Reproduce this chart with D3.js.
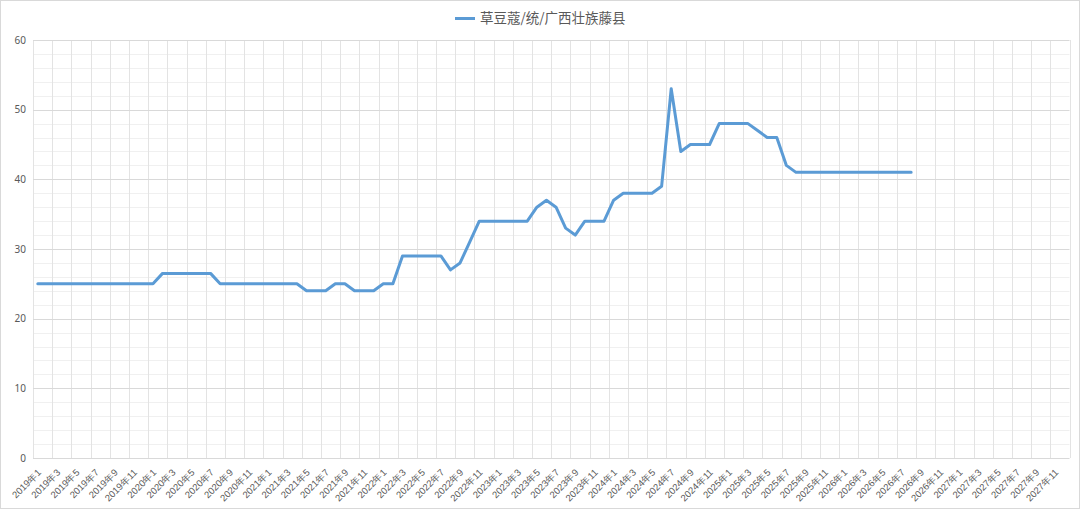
<!DOCTYPE html>
<html>
<head>
<meta charset="utf-8">
<script src="https://cdn.jsdelivr.net/npm/d3@7"></script>
<style>
  html, body { margin: 0; padding: 0; background: #fff; }
  svg { display: block; font-family: "Noto Sans CJK SC", "Noto Sans", sans-serif; }
</style>
</head>
<body>
<svg id="chart" width="1080" height="509"></svg>
<script>
// ---- data ----
const years = [2019, 2020, 2021, 2022, 2023, 2024, 2025, 2026, 2027];
const months = [1,2,3,4,5,6,7,8,9,10,11,12];
const categories = years.flatMap(y => months.map(m => `${y}年${m}`));
const seriesName = "草豆蔻/统/广西壮族藤县";
const values = [
  // 2019
  25,25,25,25,25,25,25,25,25,25,25,25,
  // 2020
  25,26.5,26.5,26.5,26.5,26.5,26.5,25,25,25,25,25,
  // 2021
  25,25,25,25,24,24,24,25,25,24,24,24,
  // 2022
  25,25,29,29,29,29,29,27,28,31,34,34,
  // 2023
  34,34,34,34,36,37,36,33,32,34,34,34,
  // 2024
  37,38,38,38,38,39,53,44,45,45,45,48,
  // 2025
  48,48,48,47,46,46,42,41,41,41,41,41,
  // 2026
  41,41,41,41,41,41,41,41
];
const yTicks = [0, 10, 20, 30, 40, 50, 60];

// ---- layout ----
const W = 1080, H = 509;
const plot = { left: 33, right: 1069.5, top: 40, bottom: 458 };
const svg = d3.select("#chart");

// outer border
svg.append("rect").attr("x", 0.5).attr("y", 0.5).attr("width", W - 1).attr("height", H - 1)
  .attr("fill", "#fff").attr("stroke", "#d9d9d9");

const x = d3.scaleBand().domain(categories).range([plot.left, plot.right]).paddingInner(0).paddingOuter(0);
const y = d3.scaleLinear().domain([0, 60]).range([plot.bottom, plot.top]);

// minor horizontal gridlines
const minor = d3.range(0, 61, 2).filter(v => v % 10 !== 0);
svg.append("g").selectAll("line").data(minor).join("line")
  .attr("x1", plot.left).attr("x2", plot.right)
  .attr("y1", d => Math.round(y(d)) + 0.5).attr("y2", d => Math.round(y(d)) + 0.5)
  .attr("stroke", "#f0f0f0").attr("stroke-width", 1);

// vertical gridlines every 2 categories
const vIdx = d3.range(0, categories.length + 1, 2);
svg.append("g").selectAll("line").data(vIdx).join("line")
  .attr("x1", i => Math.round(plot.left + i * x.step()) + 0.5)
  .attr("x2", i => Math.round(plot.left + i * x.step()) + 0.5)
  .attr("y1", plot.top).attr("y2", plot.bottom)
  .attr("stroke", "#e3e3e3").attr("stroke-width", 1);

// major horizontal gridlines
svg.append("g").selectAll("line").data(yTicks).join("line")
  .attr("x1", plot.left).attr("x2", plot.right)
  .attr("y1", d => Math.round(y(d)) + 0.5).attr("y2", d => Math.round(y(d)) + 0.5)
  .attr("stroke", "#d9d9d9").attr("stroke-width", 1);

// y axis labels
const yAxis = d3.axisLeft(y).tickValues(yTicks).tickSize(0).tickPadding(7);
const gy = svg.append("g").attr("transform", `translate(${plot.left},0)`).call(yAxis);
gy.select(".domain").remove();
gy.selectAll("text").attr("fill", "#595959").style("font-size", "10px")
  .style("font-family", "'Noto Sans', 'DejaVu Sans', sans-serif");

// x axis labels
const xLabels = categories.filter((c, i) => i % 2 === 0);
const xAxis = d3.axisBottom(x).tickValues(xLabels).tickSize(0).tickPadding(0);
const gx = svg.append("g").attr("transform", `translate(0,${plot.bottom})`).call(xAxis);
gx.select(".domain").remove();
gx.selectAll(".tick text")
  .attr("fill", "#595959").style("font-size", "9.5px")
  .attr("text-anchor", "end")
  .attr("dy", null).attr("y", null)
  .attr("transform", "translate(4,15) rotate(-45)");

// line
const pts = values.map((v, i) => ({ c: categories[i], v }));
const line = d3.line().x(d => x(d.c) + x.bandwidth() / 2).y(d => y(d.v));
svg.append("path").datum(pts)
  .attr("d", line)
  .attr("fill", "none").attr("stroke", "#5b9bd5").attr("stroke-width", 3)
  .attr("stroke-linejoin", "round").attr("stroke-linecap", "round");

// legend
const lg = svg.append("g").attr("transform", "translate(455,18.5)");
lg.append("line").attr("x1", 0).attr("x2", 20).attr("y1", 0).attr("y2", 0)
  .attr("stroke", "#5b9bd5").attr("stroke-width", 3);
lg.append("text").attr("x", 25).attr("y", 0).attr("dy", "0.35em")
  .attr("fill", "#595959").style("font-size", "13.5px").text(seriesName);
</script>
</body>
</html>
